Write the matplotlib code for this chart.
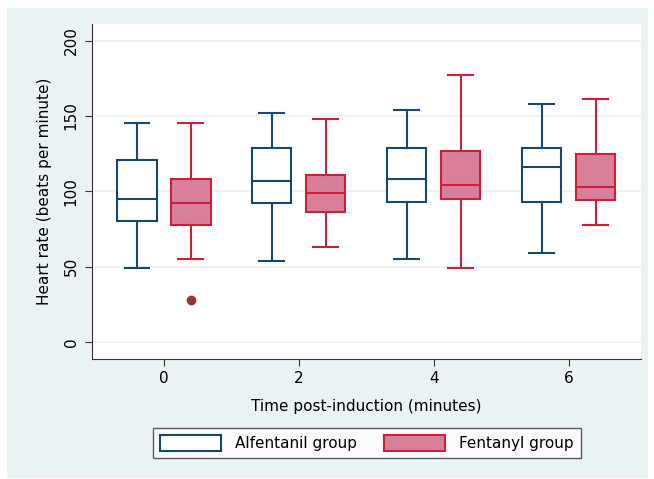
import matplotlib
matplotlib.use("Agg")
import matplotlib.pyplot as plt
from matplotlib.patches import Rectangle, Patch

times = [0, 2, 4, 6]
groups = ["Alfentanil group", "Fentanyl group"]

# whisker low, Q1, median, Q3, whisker high
alf_low = [49, 54, 55, 59]
alf_q1 = [80, 92, 93, 93]
alf_med = [95, 107, 108, 116]
alf_q3 = [121, 129, 129, 129]
alf_high = [145, 152, 154, 158]

fen_low = [55, 63, 49, 78]
fen_q1 = [78, 86, 95, 94]
fen_med = [92, 99, 104, 103]
fen_q3 = [108, 111, 127, 125]
fen_high = [145, 148, 177, 161]
fen_outliers = [[28], [], [], []]

navy = "#1a476f"
red = "#c8213c"
pink = "#d97f9a"
bg = "#eaf2f3"


def make_stats(low, q1, med, q3, high, fliers=None):
    stats = []
    for i in range(len(low)):
        stats.append({"whislo": low[i], "q1": q1[i], "med": med[i], "q3": q3[i],
                      "whishi": high[i], "fliers": fliers[i] if fliers else []})
    return stats


fig = plt.figure(figsize=(6.54, 4.79), dpi=100)
fig.patch.set_facecolor("white")
fig.patches.append(Rectangle((7 / 654, 1 - 478 / 479), 641 / 654, 470 / 479,
                             transform=fig.transFigure, facecolor=bg,
                             edgecolor="none", zorder=-10))
ax = fig.add_axes([0.1414, 0.2511, 0.8386, 0.6989])
ax.set_facecolor("white")

off = 0.4
w = 0.58
ax.bxp(make_stats(alf_low, alf_q1, alf_med, alf_q3, alf_high),
       positions=[t - off for t in times], widths=w, patch_artist=True,
       boxprops=dict(facecolor="white", edgecolor=navy, linewidth=1.5),
       medianprops=dict(color=navy, linewidth=1.5),
       whiskerprops=dict(color=navy, linewidth=1.5),
       capprops=dict(color=navy, linewidth=1.5), capwidths=0.37,
       manage_ticks=False)
ax.bxp(make_stats(fen_low, fen_q1, fen_med, fen_q3, fen_high, fen_outliers),
       positions=[t + off for t in times], widths=w, patch_artist=True,
       boxprops=dict(facecolor=pink, edgecolor=red, linewidth=1.5),
       medianprops=dict(color=red, linewidth=1.5),
       whiskerprops=dict(color=red, linewidth=1.5),
       capprops=dict(color=red, linewidth=1.5), capwidths=0.37,
       flierprops=dict(marker="o", markerfacecolor="#90353b",
                       markeredgecolor="#90353b", markersize=6),
       manage_ticks=False)

ax.set_xlim(-1.06, 7.07)
ax.set_ylim(-11, 211)
ax.set_yticks([0, 50, 100, 150, 200])
ax.set_yticklabels(["0", "50", "100", "150", "200"], rotation=90, va="center")
ax.set_xticks(times)
ax.set_xticklabels([str(t) for t in times])
ax.grid(axis="y", color=bg, linewidth=1.2)
ax.set_axisbelow(True)
for s in ["top", "right"]:
    ax.spines[s].set_visible(False)
for s in ["left", "bottom"]:
    ax.spines[s].set_color("#333333")
ax.tick_params(labelsize=11, length=5, color="#333333")
ax.tick_params(axis="y", pad=5)
ax.set_ylabel("Heart rate (beats per minute)", fontsize=11, labelpad=8)
ax.set_xlabel("Time post-induction (minutes)", fontsize=11, labelpad=10)

handles = [Patch(facecolor="white", edgecolor=navy, linewidth=1.5),
           Patch(facecolor=pink, edgecolor=red, linewidth=1.5)]
leg = fig.legend(handles, groups, loc="center", bbox_to_anchor=(0.561, 0.075),
                 ncol=2, fontsize=11, frameon=True, fancybox=False,
                 handlelength=4.0, handleheight=1.3, columnspacing=1.8,
                 handletextpad=0.9, borderpad=0.45)
leg.get_frame().set_edgecolor("#333333")
leg.get_frame().set_linewidth(1.0)

fig.savefig("out.png", dpi=100)
